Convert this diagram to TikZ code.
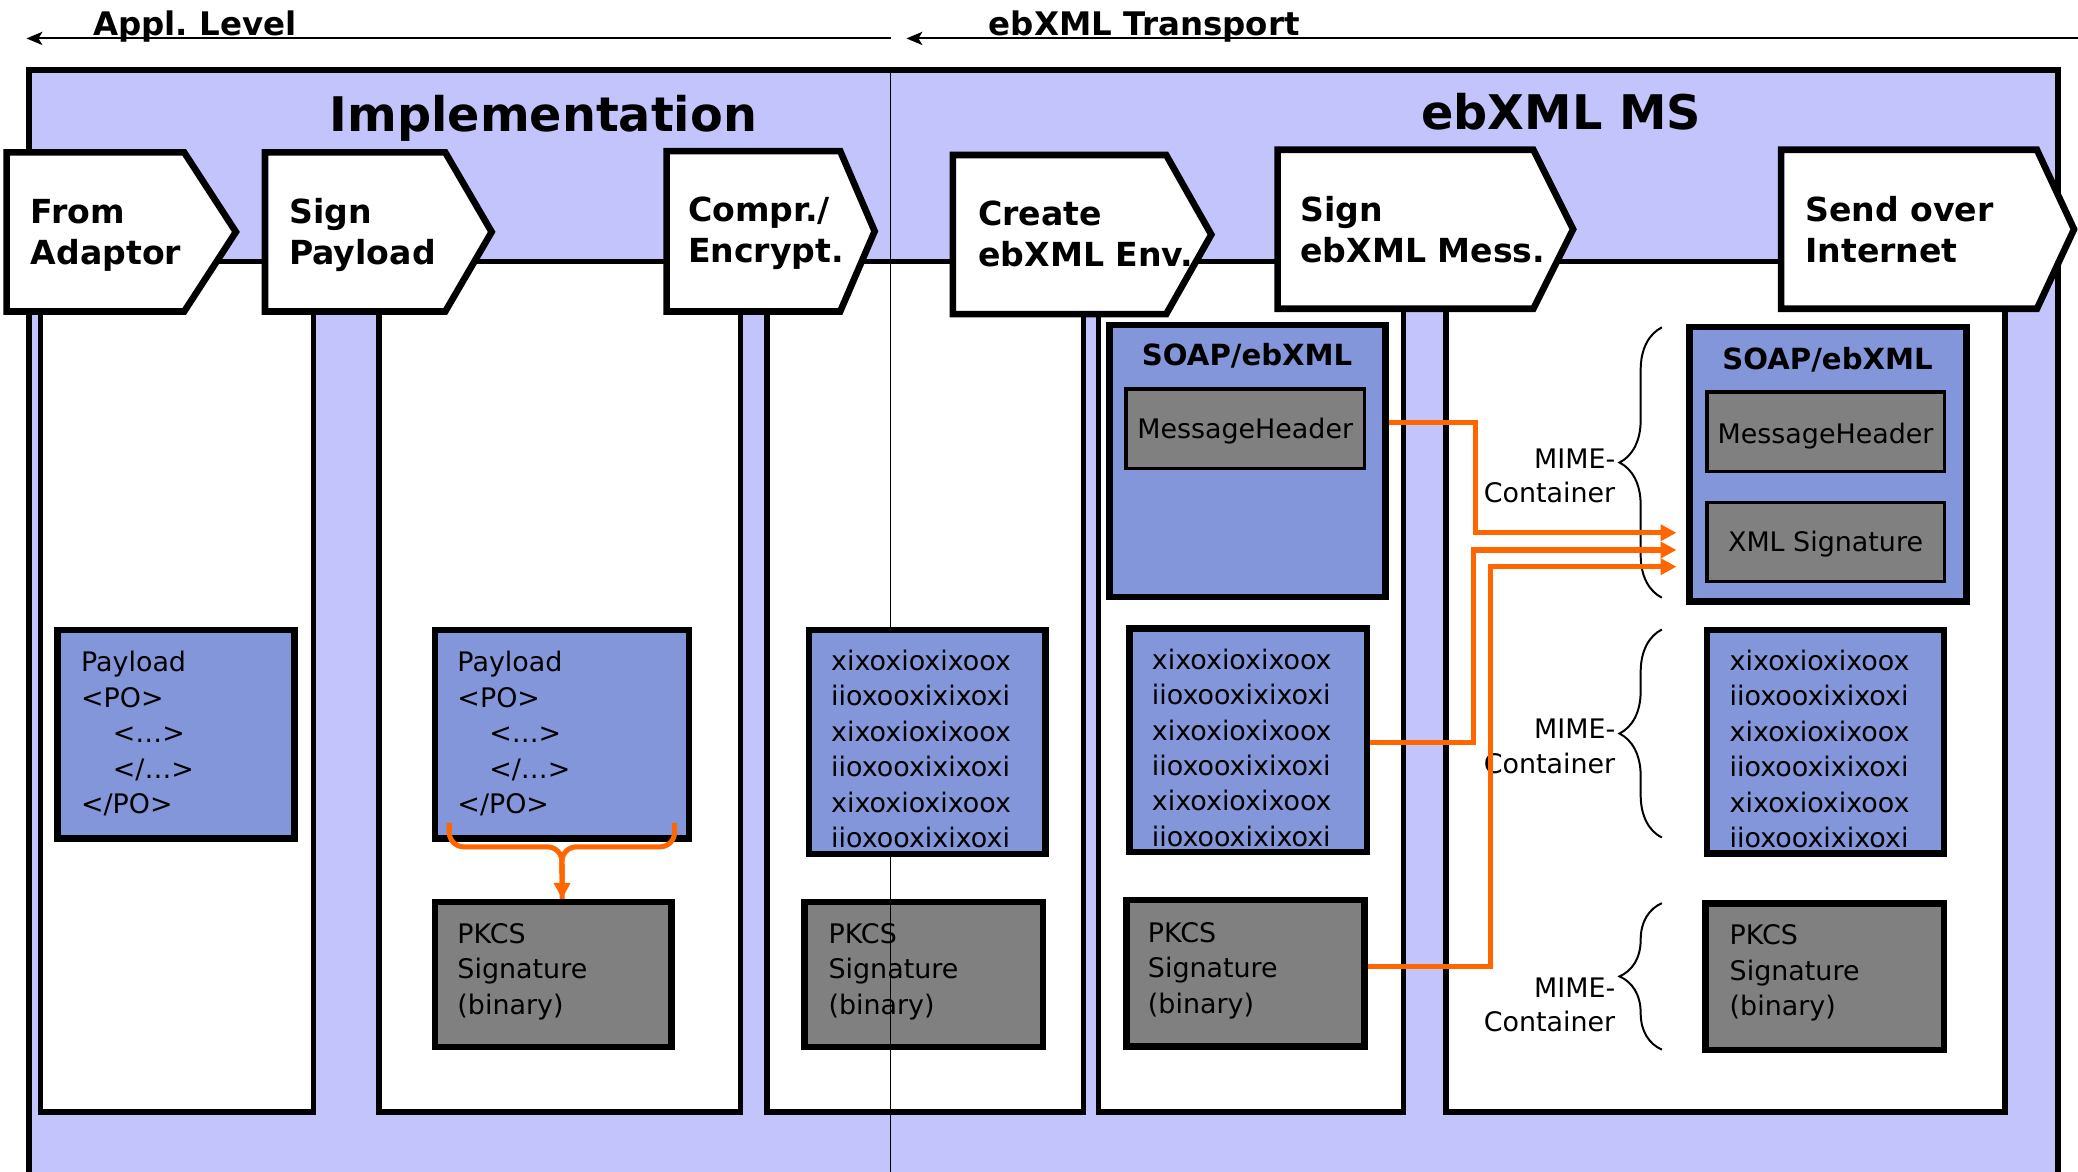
\documentclass[tikz,border=0pt]{standalone}
\usepackage{fontspec}
\setmainfont{DejaVu Sans}
\usetikzlibrary{arrows.meta,fit,decorations.pathreplacing,calc}
\definecolor{lav}{RGB}{196,196,252}
\definecolor{peri}{RGB}{132,150,218}
\definecolor{boxgray}{RGB}{128,128,128}
\definecolor{org}{RGB}{255,102,0}
\frenchspacing
\begin{document}
\begin{tikzpicture}[x=1pt,y=-1pt,
  framebox/.style={draw,line width=4.5pt,fill=lav,inner sep=0pt},
  lane/.style={draw,line width=4pt,fill=white,inner sep=0pt},
  bluebox/.style={draw,line width=5pt,fill=peri,inner sep=0pt},
  graybox/.style={draw,line width=5pt,fill=boxgray,inner sep=0pt},
  thingray/.style={draw,line width=2.5pt,fill=boxgray,inner sep=0pt},
  chev/.style={draw,line width=5pt,fill=white,line join=miter},
  chevtext/.style={anchor=base west,align=left,inner sep=0pt,font=\fontsize{25}{31}\selectfont\bfseries},
  body/.style={anchor=base west,align=left,inner sep=0pt,font=\fontsize{20.3}{26.7}\selectfont},
  mime/.style={anchor=base east,align=right,inner sep=0pt,font=\fontsize{20.3}{26}\selectfont},
  title/.style={anchor=base,inner sep=0pt,font=\fontsize{36}{40}\selectfont\bfseries},
  toptext/.style={anchor=base west,inner sep=0pt,font=\fontsize{24.5}{28}\selectfont\bfseries},
  soaptitle/.style={anchor=base,inner sep=0pt,font=\fontsize{22}{26}\selectfont\bfseries},
  toparrow/.style={draw,line width=1.5pt,-{Stealth[length=12pt,width=10pt,inset=3pt]}},
  oline/.style={draw=org,line width=3.8pt},
  oarrow/.style={oline,-{Triangle[length=12pt,width=12pt]}},
  mbrace/.style={draw,line width=1.5pt,decorate,decoration={brace,amplitude=32pt}},
  thin/.style={draw,line width=1.2pt}
]
\useasboundingbox (0,0) rectangle (1568,884);
\clip (0,0) rectangle (1568,884);

% top level arrows
\coordinate (a1s) at (672,29);
\coordinate (a1e) at (20,29);
\coordinate (a2s) at (1568,29);
\coordinate (a2e) at (684,29);
\draw[toparrow] (a1s) -- (a1e);
\draw[toparrow] (a2s) -- (a2e);
\node[toptext] (appl) at (70,27) {Appl. Level};
\node[toptext] (transp) at (746,27) {ebXML Transport};

% frame
\node[framebox,fit={(22,53) (1553,920)}] (frame) {};
\node[title] (impl) at (410,99.5) {Implementation};
\node[title] (ebms) at (1178,98) {ebXML MS};

% lanes
\node[lane,fit={(30.7,197.5) (236.7,839)}] (col1) {};
\node[lane,fit={(286,197.5) (558.6,839)}] (col2) {};
\node[lane,fit={(578.8,197.5) (817.5,839)}] (col3) {};
\node[lane,fit={(828.8,197.5) (1059,839)}] (col4) {};
\node[lane,fit={(1091,197.5) (1513,839)}] (col5) {};

% chevrons
\draw[chev] (5,115) -- (139,115) -- (178,175) -- (139,235) -- (5,235) -- cycle;
\draw[chev] (200,115) -- (336,115) -- (371,175) -- (336,235) -- (200,235) -- cycle;
\draw[chev] (503,114) -- (634,114) -- (660,174.5) -- (634,235) -- (503,235) -- cycle;
\draw[chev] (719,117) -- (880,117) -- (914,177) -- (880,237) -- (719,237) -- cycle;
\draw[chev] (964,113) -- (1157,113) -- (1187,173) -- (1157,233) -- (964,233) -- cycle;
\draw[chev] (1344,113) -- (1537,113) -- (1565,173) -- (1537,233) -- (1344,233) -- cycle;
% (anchor base = last line baseline)
\node[chevtext] (n1) at (23,199.5) {From\\Adaptor};
\node[chevtext] (n2) at (218,199.5) {Sign\\Payload};
\node[chevtext] (n3) at (519,198) {Compr./\\Encrypt.};
\node[chevtext] (n4) at (738,201) {Create\\ebXML Env.};
\node[chevtext] (n5) at (981,198) {Sign\\ebXML Mess.};
\node[chevtext] (n6) at (1362,198) {Send over\\Internet};

% lane 1
\node[bluebox,fit={(43.4,475.3) (222.4,632.7)}] (pay1) {};
\node[body] (pay1t) at (61,613.8) {Payload\\<PO>\\\hspace*{24pt}<…>\\\hspace*{24pt}</…>\\</PO>};

% lane 2
\node[bluebox,fit={(328.3,475.3) (520,632.7)}] (pay2) {};
\node[body] (pay2t) at (345,613.8) {Payload\\<PO>\\\hspace*{24pt}<…>\\\hspace*{24pt}</…>\\</PO>};
\node[graybox,fit={(328.3,680.7) (506.8,790)}] (k2) {};
\node[body] (k2t) at (345,765.4) {PKCS\\Signature\\(binary)};
\coordinate (bl) at (339,621);
\coordinate (br) at (509,621);
\draw[oline,rounded corners=11pt] (br) -- (509,639) -- (424,639) -- (pay2.south |- k2.north);
\draw[oarrow,rounded corners=11pt] (bl) -- (339,639) -- (424,639) -- (pay2.south |- k2.north);

% lane 3
\node[graybox,fit={(607,680.7) (787,790)}] (k3) {};
\node[body] (k3t) at (625,765.4) {PKCS\\Signature\\(binary)};
\coordinate (v1) at (672,53);
\coordinate (v2) at (672,884);
\draw[thin] (v1) -- (v2);
\node[bluebox,fit={(610.5,475.3) (789,644.3)}] (x3) {};
\node[body] (x3t) at (627,639.5) {xixoxioxixoox\\iioxooxixixoxi\\xixoxioxixoox\\iioxooxixixoxi\\xixoxioxixoox\\iioxooxixixoxi};

% lane 4
\node[bluebox,fit={(837.3,245.3) (1045.6,450.5)}] (soap4) {};
\node[soaptitle] (st4) at (941,276) {SOAP/ebXML};
\node[thingray,fit={(849.7,293.6) (1029.6,353.6)}] (mh4) {};
\node[body,anchor=base] (mh4t) at (939.6,330.5) {MessageHeader};
\node[bluebox,fit={(852.5,474.4) (1031.5,643)}] (x4) {};
\node[body] (x4t) at (869,638.5) {xixoxioxixoox\\iioxooxixixoxi\\xixoxioxixoox\\iioxooxixixoxi\\xixoxioxixoox\\iioxooxixixoxi};
\node[graybox,fit={(850,679) (1029.6,789.8)}] (k4) {};
\node[body] (k4t) at (866,764.4) {PKCS\\Signature\\(binary)};

% lane 5
\node[bluebox,fit={(1274.6,246.6) (1484,454)}] (soap5) {};
\node[soaptitle] (st5) at (1379,278.5) {SOAP/ebXML};
\node[thingray,fit={(1288,295.8) (1467,356)}] (mh5) {};
\node[body,anchor=base] (mh5t) at (1377.5,334.5) {MessageHeader};
\node[thingray,fit={(1288,379) (1467,439)}] (xs5) {};
\node[body,anchor=base] (xs5t) at (1377.5,416.5) {XML Signature};
\node[bluebox,fit={(1288,475.5) (1467,644)}] (x5) {};
\node[body] (x5t) at (1305,639.5) {xixoxioxixoox\\iioxooxixixoxi\\xixoxioxixoox\\iioxooxixixoxi\\xixoxioxixoox\\iioxooxixixoxi};
\node[graybox,fit={(1287,681.6) (1467,792.4)}] (k5) {};
\node[body] (k5t) at (1305,766.4) {PKCS\\Signature\\(binary)};

% MIME braces
\coordinate (m1a) at (1254,451);
\coordinate (m1b) at (1254,247);
\coordinate (m2a) at (1254,632);
\coordinate (m2b) at (1254,475);
\coordinate (m3a) at (1254,792);
\coordinate (m3b) at (1254,681.5);
\draw[mbrace] (m1a) -- (m1b);
\draw[mbrace] (m2a) -- (m2b);
\draw[mbrace] (m3a) -- (m3b);
\node[mime] (mm1) at (1219,379.5) {MIME-\\Container};
\node[mime] (mm2) at (1219,583.5) {MIME-\\Container};
\node[mime] (mm3) at (1219,778.5) {MIME-\\Container};

% orange connectors
\coordinate (j1) at (1113,319);
\coordinate (t1) at (1265,402);
\coordinate (j2) at (1112,560.5);
\coordinate (t2) at (1265,415);
\coordinate (j3) at (1125,729.5);
\coordinate (t3) at (1265,427.6);
\draw[oarrow] (soap4.east |- j1) -- (j1) -- (j1 |- t1) -- (t1);
\draw[oarrow] (x4.east |- j2) -- (j2) -- (j2 |- t2) -- (t2);
\draw[oarrow] (k4.east |- j3) -- (j3) -- (j3 |- t3) -- (t3);
\end{tikzpicture}
\end{document}
